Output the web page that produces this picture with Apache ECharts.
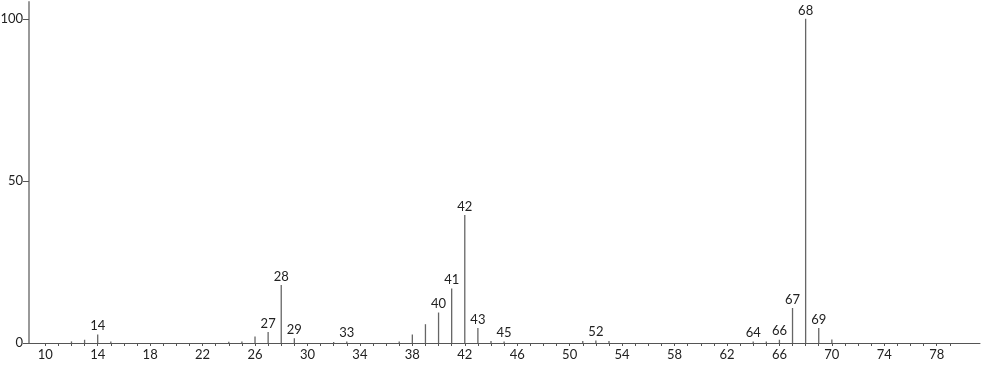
<!DOCTYPE html>
<html><head><meta charset="utf-8">
<script src="https://cdn.jsdelivr.net/npm/echarts@6/dist/echarts.min.js"></script>
<style>html,body{margin:0;padding:0;background:#fff}#c{width:982px;height:365px}</style>
</head><body><div id="c"></div>
<script>
const mz =        [12, 13, 14, 15, 24, 25, 26, 27, 28, 29, 32, 33, 37, 38, 39, 40, 41, 42, 43, 44, 45, 51, 52, 53, 64, 65, 66, 67, 68, 69, 70];
const intensity = [0.5,1.0,2.6,0.5,0.4,0.5,2.0,3.4,17.9,1.5,0.3,0.5,0.5,2.6,5.8,9.4,16.8,39.5,4.6,0.6,0.5,0.6,0.8,0.6,0.5,0.5,1.0,10.8,100,4.6,1.1];
const labeledPeaks = [14, 27, 28, 29, 33, 40, 41, 42, 43, 45, 52, 64, 66, 67, 68, 69];
const xTickValues = []; for (let v = 10; v <= 79; v++) xTickValues.push(v);
const xLabelValues = [10,14,18,22,26,30,34,38,42,46,50,54,58,62,66,70,74,78];
const yLabelValues = [0, 50, 100];

const FONT = 'Lato, "DejaVu Sans", sans-serif';
const chart = echarts.init(document.getElementById('c'));
chart.setOption({
  animation: false,
  grid: { left: 29, right: 2, top: 2, bottom: 22, containLabel: false, outerBoundsMode: 'none' },
  xAxis: {
    type: 'value', min: 8.76, max: 81.3,
    axisLine: { lineStyle: { color: '#555', width: 1 } },
    axisTick: { show: true, length: 3, customValues: xTickValues, lineStyle: { color: '#555' } },
    axisLabel: { customValues: xLabelValues, color: '#222', fontFamily: FONT, fontSize: 13, margin: 5 },
    splitLine: { show: false }
  },
  yAxis: {
    type: 'value', min: 0, max: 105.2, interval: 50,
    axisLine: { show: true, lineStyle: { color: '#999', width: 2 } },
    axisTick: { show: true, length: 6, customValues: yLabelValues, lineStyle: { color: '#555' } },
    axisLabel: { customValues: yLabelValues, color: '#222', fontFamily: FONT, fontSize: 13, margin: 6 },
    splitLine: { show: false }
  },
  series: [{
    type: 'bar',
    barWidth: 1.3,
    itemStyle: { color: '#666' },
    data: mz.map((m, i) => ({
      value: [m, intensity[i]],
      label: { show: labeledPeaks.includes(m), position: 'top', distance: 2,
               formatter: String(m), color: '#222', fontFamily: FONT, fontSize: 13 }
    }))
  }]
});
</script></body></html>
